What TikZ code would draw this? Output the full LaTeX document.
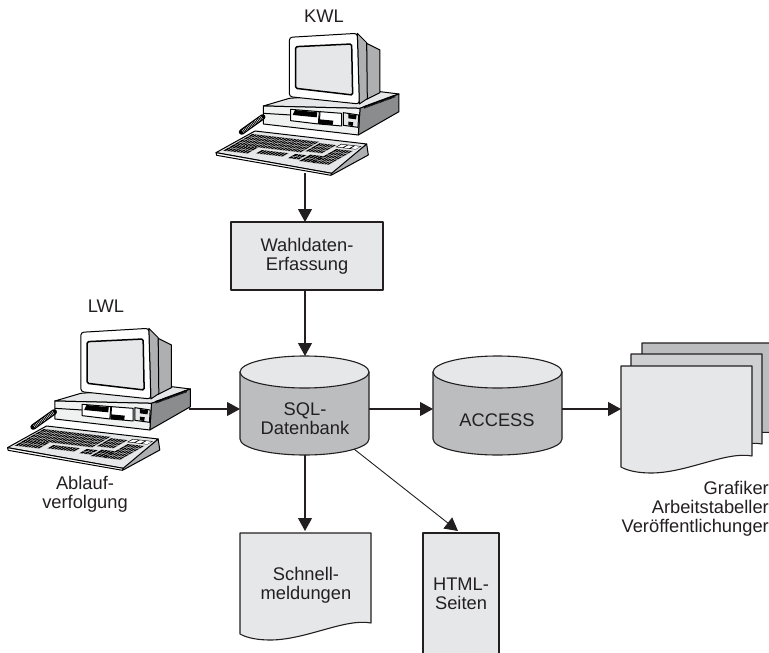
\documentclass[tikz,border=0pt]{standalone}
\usepackage{fontspec}
\setmainfont{Liberation Sans}
\usetikzlibrary{arrows.meta,calc}
\definecolor{lightfill}{HTML}{E6E7E8}
\definecolor{midfill}{HTML}{CFD0D2}
\definecolor{darkfill}{HTML}{BBBDBF}
\definecolor{inkcol}{HTML}{231F20}
\definecolor{sidecol}{HTML}{8A8C8E}
\tikzset{
  txt/.style={text=inkcol,font=\fontsize{18.3}{18.8}\selectfont,align=center,inner sep=0pt},
  outline/.style={draw=inkcol,line width=1.1pt,line join=round},
  frame/.style={inner sep=0pt,outer sep=0pt},
  conn/.style={draw=inkcol,line width=1.2pt,-{Triangle[length=13pt,width=14pt]}},
  thinconn/.style={draw=inkcol,line width=.9pt,-{Triangle[length=13pt,width=14pt]}},
  pcline/.style={draw=black,line width=1pt,line join=round},
}
\newcommand\keyblock[6]{%
  \fill[black] (#1,#2)--(#3,#2)--(#3,#4)--(#1,#4)--cycle;
  \foreach \i in {1,...,#5}{\draw[white,line width=.25pt] ({#1+(#3-#1)*\i/#5},#2)--({#1+(#3-#1)*\i/#5},#4);}
  \foreach \i in {1,...,#6}{\draw[white,line width=.25pt] (#1,{#2+(#4-#2)*\i/#6})--(#3,{#2+(#4-#2)*\i/#6});}
}
\newcommand\pcdraw[1]{%
\begin{scope}[shift={#1},x=.3333pt,y=-.3333pt]
  % base
  \filldraw[pcline,fill=lightfill] (190,318)--(268,295)--(540,275)--(597,282)--(480,325)--cycle;
  \filldraw[pcline,fill=sidecol] (480,325)--(597,282)--(597,335)--(475,405)--cycle;
  \filldraw[pcline,fill=lightfill!60!white] (190,318)--(480,325)--(475,405)--(190,372)--cycle;
  \draw[black,line width=2.6pt,dash pattern=on .7pt off .5pt] (492,322)--(585,288);
  \draw[pcline] (190,340)--(272,345);
  \draw[pcline,fill=white] (272,328)--(358,335)--(355,372)--(272,362)--cycle;
  \fill[black] (285,330)--(352,337)--(350,352)--(278,345)--cycle;
  \draw[pcline,fill=white] (360,335)--(425,340)--(425,378)--(358,372)--cycle;
  \fill[black] (358,358)--(400,362)--(398,375)--(358,372)--cycle;
  \draw[pcline,fill=lightfill] (430,338)--(476,345)--(474,382)--(430,376)--cycle;
  \fill[black] (445,342)--(470,346)--(468,358)--(445,355)--cycle;
  \fill[black] (445,365)--(460,367)--(458,378)--(445,376)--cycle;
  % monitor
  \filldraw[pcline,fill=sidecol!70!white] (500,130)--(540,150)--(540,278)--(500,298)--cycle;
  \filldraw[pcline,fill=lightfill!40!sidecol] (472,100)--(500,128)--(502,296)--(478,312)--cycle;
  \filldraw[pcline,fill=white,rounded corners=3pt] (268,112)--(472,100)--(478,312)--(268,290)--cycle;
  \filldraw[draw=black,line width=1.5pt,fill=lightfill,rounded corners=1.5pt] (287,140)--(455,132)--(458,285)--(287,265)--cycle;
  % cable
  \draw[black,line width=5.6pt,line cap=round] (125,396)--(188,351);
  \draw[white,line width=3.2pt,dash pattern=on .45pt off 1.2pt] (128,394)--(186,352);
  % keyboard
  \filldraw[pcline,fill=sidecol!70!white] (500,432)--(505,465)--(395,525)--(392,518)--cycle;
  \filldraw[pcline,fill=lightfill] (48,458)--(165,393)--(500,432)--(395,520)--cycle;
  \filldraw[pcline,fill=white] (48,458)--(50,466)--(393,526)--(395,520)--cycle;
  \begin{scope}[shift={(165,393)},x={(111.67pt,-13pt)},y={(-38pt,-21.7pt)}]
    \keyblock{.02}{.13}{.62}{.62}{24}{4}
    \keyblock{.02}{.62}{.24}{.90}{8}{2}
    \keyblock{.30}{.70}{.54}{.86}{9}{1}
    \keyblock{.60}{.70}{.70}{.90}{3}{2}
    \keyblock{.64}{.18}{.79}{.56}{6}{3}
    \keyblock{.72}{.66}{.84}{.96}{4}{2}
    \keyblock{.84}{.33}{.99}{.97}{6}{5}
    \fill[black] (.81,.11)--(.99,.11)--(.99,.26)--(.81,.26)--cycle;
    \foreach \k in {.82,.88,.94}{\fill[white] (\k,.13)--(\k+.045,.13)--(\k+.045,.24)--(\k,.24)--cycle;}
  \end{scope}
\end{scope}}
\newcommand\cyl[1]{%
  \filldraw[outline,fill=darkfill] ($(#1.north west)+(0,16)$)
    --($(#1.south west)+(0,-16)$) arc[start angle=180,end angle=0,x radius=64.5,y radius=16]
    --($(#1.north east)+(0,16)$)--cycle;
  \filldraw[outline,fill=lightfill] ($(#1.north)+(0,16)$) ellipse[x radius=64.5,y radius=16];
}
\newcommand\docsheet[2]{%
  \filldraw[outline,fill=#2] (#1.north west)--(#1.north east)
    --($(#1.north east)+(0,90)$)
    ..controls ($(#1.north east)+(-26,85)$) and ($(#1.north east)+(-65,107)$).. ($(#1.north east)+(-101,107)$)
    ..controls ($(#1.north east)+(-113,107)$) and ($(#1.north east)+(-124,105)$).. ($(#1.north east)+(-131,101)$)
    --cycle;
}
\begin{document}
\begin{tikzpicture}[x=1pt,y=-1pt]
  \useasboundingbox (0,0) rectangle (769,653);
  % computers
  \pcdraw{(200,0)}
  \pcdraw{(-8.5,295)}
  \coordinate (kwlout) at (305,173);
  \coordinate (lwlout) at (189,409);
  \node[txt,anchor=base] (kwl) at (324,23) {KWL};
  \node[txt,anchor=base] (lwl) at (106,312) {LWL};
  \node[txt] (ablauf) at (85,494) {Ablauf-\\verfolgung};
  % box
  \node[frame,outline,fill=lightfill,minimum width=152pt,minimum height=68pt,txt] (wahl) at (307,256) {Wahldaten-\\Erfassung};
  % databases
  \node[frame,minimum width=129pt,minimum height=99pt] (sql) at (304.5,405.5) {};
  \node[frame,minimum width=129pt,minimum height=99pt] (acc) at (497.5,405.5) {};
  \cyl{sql}\cyl{acc}
  \node[txt] (sqltxt) at (305,419) {SQL-\\Datenbank};
  \node[txt] (acctxt) at (497,420) {ACCESS};
  % documents
  \node[frame,minimum width=131pt,minimum height=107pt] (doc3) at (707.5,396.5) {};
  \node[frame,minimum width=131pt,minimum height=107pt] (doc2) at (696.5,407.5) {};
  \node[frame,minimum width=131pt,minimum height=107pt] (doc1) at (686.5,419.5) {};
  \docsheet{doc3}{darkfill}
  \docsheet{doc2}{midfill}
  \docsheet{doc1}{lightfill}
  \node[txt,align=right,anchor=east] (outtxt) at (769,509) {Grafiker\\Arbeitstabeller\\Veröffentlichunger};
  \node[frame,minimum width=131pt,minimum height=107pt] (schnell) at (305.5,586.5) {};
  \docsheet{schnell}{lightfill}
  \node[txt] (schtxt) at (306,585) {Schnell-\\meldungen};
  \node[frame,minimum width=76pt,minimum height=122pt] (html) at (461,594) {};
  \filldraw[outline,fill=lightfill] (html.south west)--(html.north west)--(html.north east)--(html.south east);
  \node[txt] (htmltxt) at (461,594) {HTML-\\Seiten};
  % connectors
  \draw[conn] (kwlout)--(wahl.north -| kwlout);
  \draw[conn] (wahl.south -| kwlout)--(sql.north -| kwlout);
  \draw[conn] (lwlout)--(sql.west |- lwlout);
  \draw[conn] (sql.east |- lwlout)--(acc.west |- lwlout);
  \draw[conn] (acc.east |- lwlout)--(doc1.west |- lwlout);
  \draw[conn] (sql.south -| kwlout)--($(schnell.north -| kwlout)+(0,-2)$);
  \draw[thinconn] ($(sql.south east)+(-15,-6)$)--($(html.north)+(-3,-2)$);
\end{tikzpicture}
\end{document}
